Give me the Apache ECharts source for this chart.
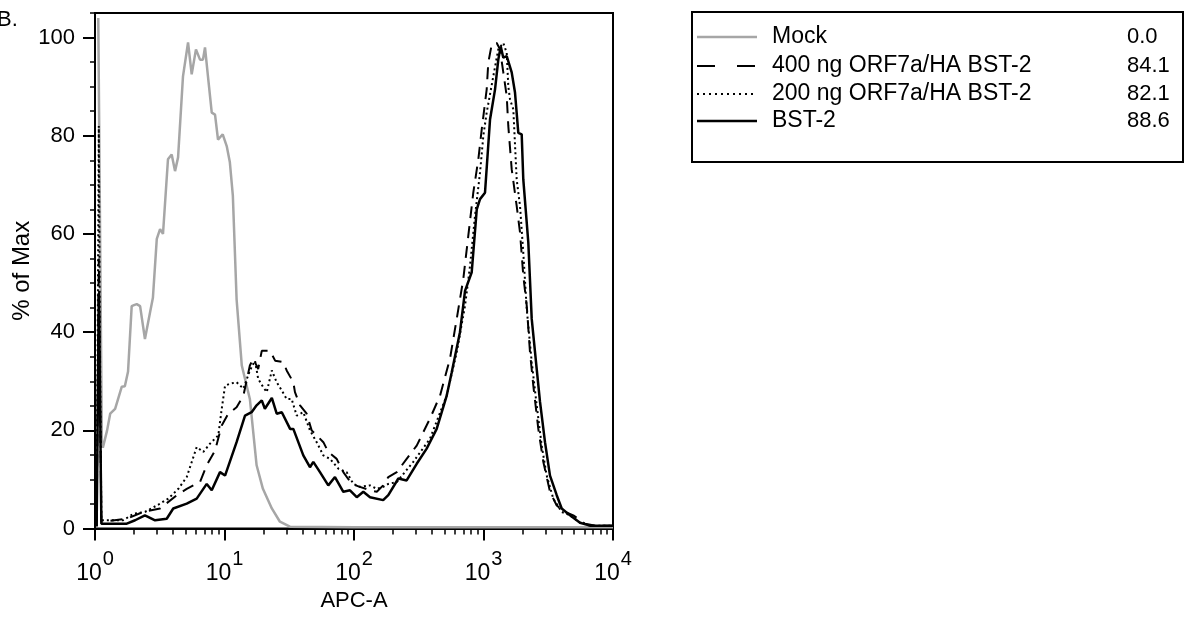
<!DOCTYPE html>
<html><head><meta charset="utf-8">
<script src="https://cdn.jsdelivr.net/npm/echarts@6/dist/echarts.min.js"></script>
<style>html,body{margin:0;padding:0;background:#fff}#c{width:1186px;height:617px}</style>
</head><body><div id="c"></div>
<script>
const FONT = "'Liberation Sans', Arial, sans-serif";
const xTickExponents = [0, 1, 2, 3, 4];
const xMinorMultipliers = [2, 3, 4, 5, 6, 7, 8, 9];
const yMajorTicks = [0, 20, 40, 60, 80, 100];
const legendNames = ['Mock', '400 ng ORF7a/HA BST-2', '200 ng ORF7a/HA BST-2', 'BST-2'];
const legendValues = ['0.0', '84.1', '82.1', '88.6'];

const mock = [
[1.06,104],[1.09,104],[1.13,17],[1.15,16.5],[1.24,20],[1.31,23.4],[1.43,24.4],[1.61,28.9],[1.70,29],[1.80,32],[1.92,45.3],[2.0,45.5],[2.10,45.7],[2.23,45.3],[2.43,38.6],[2.66,44],[2.80,47],[3.0,59],[3.18,61],[3.35,60],[3.66,75.2],[3.91,76.2],[4.15,72.8],[4.38,75.6],[4.78,92.1],[5.23,99],[5.58,92.5],[6.02,97.6],[6.47,95.5],[6.82,95.5],[7.07,98],[7.46,92],[7.97,84.7],[8.45,84.3],[8.91,79.2],[9.69,80.3],[10.4,77.9],[11.0,74.6],[11.6,67.8],[12.4,46.7],[13.6,33.2],[15.7,26.4],[17.7,12.9],[19.8,8.1],[23.2,4.1],[26.8,1.4],[32,0.4],[100,0.3],[1000,0.3],[10000,0.3]
];
const ng400 = [
[1.03,0.5],[1.07,55],[1.09,30],[1.12,1.4],[1.76,2.0],[2.36,3.4],[3.18,4.1],[4.28,6.8],[5.11,8.1],[6.47,9.5],[7.29,12.9],[8.45,15.9],[9.52,21],[10.7,23.4],[12.4,24.7],[14.0,27.1],[15.7,33.2],[16.7,34.6],[18.2,32.5],[19.4,36.2],[22.5,36.2],[24.6,34.2],[28.5,33.9],[30.2,32.2],[34.0,29.8],[35.0,27.8],[38.3,25.1],[43.1,23.4],[47.1,20],[58.0,17.6],[63.3,15.6],[73.5,14.2],[82.7,11.5],[96.0,9.1],[111,8.5],[133,7.8],[150,7.5],[168,8.8],[184,10.5],[214,11.5],[255,14.2],[305,16.9],[386,22.4],[462,27.1],[551,34.6],[621,42.7],[698,50.8],[763,59.6],[834,68.4],[912,75.2],[969,81.3],[1058,89.4],[1089,94.9],[1157,98.6],[1265,98.9],[1341,97.6],[1422,92.9],[1511,88.1],[1554,82],[1651,73.2],[1804,65.7],[1914,60.3],[2029,51.5],[2157,45.4],[2286,35.9],[2425,29.1],[2650,20.3],[2896,13.6],[3262,7.5],[3676,4.7],[4259,3.4],[4937,2.7],[6079,1.0],[7268,0.6],[10000,0.6]
];
const ng200 = [
[1.03,0.5],[1.07,82],[1.09,40],[1.12,1.7],[1.65,1.7],[1.98,3.0],[2.43,3.4],[3.0,4.7],[3.68,6.1],[4.40,8.1],[5.11,10.5],[6.10,16.6],[6.86,15.6],[7.73,17.3],[8.96,19],[9.52,24.4],[10.1,29.1],[11.0,29.5],[12.4,29.8],[14.0,28.5],[15.7,32.2],[17.2,34.2],[18.2,30.5],[19.9,28.8],[21.2,27.8],[23.2,32.2],[25.3,29.8],[27.7,28.1],[30.2,26.4],[33.0,26.4],[36.1,23],[40.6,23.7],[45.7,20],[51.5,17.6],[58.0,14.9],[65.3,14.2],[75.7,12.2],[87.8,11.5],[98.8,9.1],[111,8.5],[133,8.8],[150,8.1],[168,8.5],[184,9.1],[214,9.5],[287,13.6],[386,18.3],[520,27.1],[621,35.9],[720,45.4],[787,53.5],[860,63.7],[940,72.5],[997,80],[1058,84.7],[1190,92.1],[1301,97.6],[1422,98.9],[1511,96.9],[1554,90.1],[1602,87.4],[1699,85.4],[1804,71.1],[1914,65.7],[2029,56.2],[2157,44.7],[2357,33.9],[2576,25.1],[2815,16.9],[3076,10.8],[3459,6.1],[4017,3.4],[4656,2.7],[5562,1.2],[6645,0.6],[10000,0.6]
];
const bst2 = [
[1.03,0.5],[1.07,48],[1.09,30],[1.12,1.0],[1.76,1.0],[2.04,1.7],[2.43,2.7],[2.91,1.7],[3.58,2.0],[4.02,4.1],[5.11,5.1],[6.10,6.1],[7.29,9.1],[7.97,7.8],[9.23,11.5],[10.1,10.8],[12.4,17.6],[14.4,23],[16.2,23.7],[17.7,25.1],[19.4,26.1],[20.5,24.4],[23.2,26.6],[25.3,23.4],[27.7,23.7],[32.1,20.3],[34.0,20.3],[40.6,14.9],[45.7,12.5],[48.5,13.6],[54.6,11.5],[63.3,8.8],[71.3,10.5],[82.7,7.5],[93.1,7.8],[105,6.4],[118,7.5],[133,6.4],[168,5.8],[184,6.8],[220,10.2],[255,9.8],[305,13.2],[364,16.3],[435,20.3],[520,27.1],[568,31.8],[658,40],[720,48.4],[811,52.2],[887,65],[940,67.1],[1027,68.4],[1123,83.3],[1227,89.4],[1301,95.5],[1358,98.2],[1422,95.9],[1511,96.2],[1554,95.9],[1651,92.9],[1751,88.8],[1857,80.6],[1972,80.3],[2029,71.1],[2218,58.3],[2357,42.7],[2576,32.5],[2732,25.8],[2985,17.6],[3262,10.8],[3676,6.8],[4017,4.1],[4656,2.7],[5562,1.2],[6645,0.6],[10000,0.6]
];

const xMajor = xTickExponents.map(e => Math.pow(10, e));
const xMinor = [];
xTickExponents.slice(0, -1).forEach(e => xMinorMultipliers.forEach(m => xMinor.push(m * Math.pow(10, e))));

const seriesStyles = [
  { data: mock, color: '#a6a6a6', width: 2.5, type: 'solid' },
  { data: bst2, color: '#000', width: 2.5, type: 'solid' },
  { data: ng200, color: '#000', width: 2, type: [2, 3] },
  { data: ng400, color: '#000', width: 2, type: [12, 8] }
];
const legendStyles = [
  { color: '#a6a6a6', width: 2.5, dash: null },
  { color: '#000', width: 2, dash: [18, 22] },
  { color: '#000', width: 2, dash: [2, 4] },
  { color: '#000', width: 2.5, dash: null }
];

const chart = echarts.init(document.getElementById('c'), null, { renderer: 'canvas' });
const txt = { color: '#000', fontFamily: FONT };

const legendTop = 12, rowY = [37, 66, 94, 121];
const graphics = [
  { type: 'text', x: -3, y: 9, style: { text: 'B.', font: '22px ' + FONT, fill: '#000' } },
  { type: 'rect', shape: { x: 692, y: legendTop, width: 491, height: 150 }, style: { fill: 'none', stroke: '#000', lineWidth: 2 } }
];
legendNames.forEach((n, i) => {
  const s = legendStyles[i];
  graphics.push({ type: 'line', shape: { x1: 697, y1: rowY[i], x2: 757, y2: rowY[i] }, style: { stroke: s.color, lineWidth: s.width, lineDash: s.dash } });
  graphics.push({ type: 'text', x: 772, y: rowY[i], style: { text: n, font: '23px ' + FONT, fill: '#000', textVerticalAlign: 'middle' } });
  graphics.push({ type: 'text', x: 1127, y: rowY[i], style: { text: legendValues[i], font: '22px ' + FONT, fill: '#000', textVerticalAlign: 'middle' } });
});

chart.setOption({
  animation: false,
  backgroundColor: '#fff',
  grid: { left: 95, right: 573, top: 13, bottom: 87, show: true, borderColor: '#000', borderWidth: 2, backgroundColor: 'transparent' },
  xAxis: [
    {
      type: 'log', logBase: 10, min: 1, max: 10000, position: 'bottom',
      axisLine: { show: true, lineStyle: { color: '#000', width: 2 } },
      axisTick: { show: true, length: 12, lineStyle: { color: '#000', width: 2 }, customValues: xMajor },
      axisLabel: {
        customValues: xMajor, margin: 21,
        formatter: v => '{b|10}{s|' + Math.round(Math.log10(v)) + '}',
        rich: { b: { fontSize: 23, fontFamily: FONT, color: '#000' }, s: { fontSize: 20, fontFamily: FONT, color: '#000', padding: [0, 0, 28, 1] } }
      },
      splitLine: { show: false },
      name: 'APC-A', nameLocation: 'middle', nameGap: 59,
      nameTextStyle: Object.assign({ fontSize: 22 }, txt)
    },
    {
      type: 'log', logBase: 10, min: 1, max: 10000, position: 'bottom',
      axisLine: { show: false },
      axisTick: { show: true, length: 6, lineStyle: { color: '#000', width: 1.5 }, customValues: xMinor },
      axisLabel: { show: false },
      splitLine: { show: false }
    }
  ],
  yAxis: [
    {
      type: 'value', min: 0, max: 105, interval: 5, position: 'left',
      axisLine: { show: true, lineStyle: { color: '#000', width: 2 } },
      axisTick: { show: true, length: 5, lineStyle: { color: '#000', width: 1.5 } },
      axisLabel: { show: false },
      splitLine: { show: false }
    },
    {
      type: 'value', min: 0, max: 105, interval: 5, position: 'left',
      axisLine: { show: false },
      axisTick: { show: true, length: 12, lineStyle: { color: '#000', width: 2 }, customValues: yMajorTicks },
      axisLabel: Object.assign({ customValues: yMajorTicks, margin: 20, fontSize: 22 }, txt),
      splitLine: { show: false },
      name: '% of Max', nameLocation: 'middle', nameGap: 59,
      nameTextStyle: Object.assign({ fontSize: 24 }, txt)
    }
  ],
  series: seriesStyles.map(s => ({
    type: 'line', xAxisIndex: 0, yAxisIndex: 0, data: s.data, showSymbol: false, symbol: 'none',
    smooth: false, clip: true,
    lineStyle: { color: s.color, width: s.width, type: s.type },
    emphasis: { disabled: true }
  })),
  graphic: graphics
});
</script></body></html>
